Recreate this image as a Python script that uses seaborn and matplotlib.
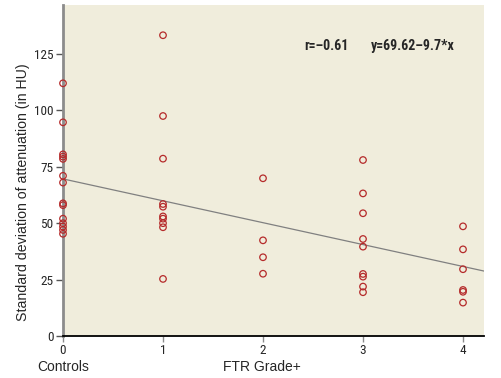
import numpy as np
import pandas as pd
import matplotlib
matplotlib.use("Agg")
import matplotlib.pyplot as plt
import seaborn as sns

# ---- data ----
grade0 = [112.0, 94.7, 80.5, 79.5, 78.5, 71.0, 68.0, 58.8, 58.0, 52.0, 50.0, 48.5, 47.0, 45.3]
grade1 = [133.3, 97.5, 78.6, 58.5, 57.3, 53.0, 52.0, 50.0, 48.2, 25.3]
grade2 = [69.9, 42.4, 34.9, 27.6]
grade3 = [78.0, 63.2, 54.4, 43.0, 39.6, 27.5, 26.3, 21.9, 19.4]
grade4 = [48.6, 38.4, 29.6, 20.4, 19.6, 14.8]
grades = [0, 1, 2, 3, 4]
y_ticks = [0, 25, 50, 75, 100, 125]
intercept = 69.62
slope = -9.7
r_value = -0.61

rows = []
for g, vals in zip(grades, [grade0, grade1, grade2, grade3, grade4]):
    for v in vals:
        rows.append({"grade": g, "sd": v})
df = pd.DataFrame(rows)

sns.set_style("white")
plt.rcParams['font.family'] = ['Liberation Sans', 'DejaVu Sans']

W, H = 502, 378
fig = plt.figure(figsize=(W / 100, H / 100), dpi=100)
ax = fig.add_axes([63 / W, (H - 336) / H, (484 - 63) / W, (336 - 5) / H])
ax.set_facecolor("#F0EDDC")

xmax = 4.21
ax.set_xlim(0, xmax)
ax.set_ylim(0, 146.7)

fit = pd.DataFrame({"x": [0, xmax]})
fit["y"] = intercept + slope * fit["x"]
sns.lineplot(data=fit, x="x", y="y", ax=ax, color="#808080", linewidth=0.9, zorder=2)

sns.scatterplot(data=df, x="grade", y="sd", ax=ax, marker="o", s=22,
                facecolors="none", edgecolor="#B52A2A", linewidth=0.9,
                zorder=3, clip_on=False)

for side in ["top", "right"]:
    ax.spines[side].set_visible(False)
ax.spines["left"].set_color("#8C8C8C")
ax.spines["left"].set_linewidth(2.0)
ax.spines["bottom"].set_color("black")
ax.spines["bottom"].set_linewidth(1.3)

narrow = ['Roboto Condensed', 'DejaVu Sans']
ax.set_xticks(grades)
ax.set_xticklabels([str(g) for g in grades], family=narrow, fontsize=9.5)
ax.set_yticks(y_ticks)
ax.set_yticklabels([str(t) for t in y_ticks], family=narrow, fontsize=9.5)
ax.tick_params(axis="y", length=5, width=1, color="#555555", pad=2, left=True)
ax.tick_params(axis="x", length=4, width=1, color="#8C8C8C", pad=1.5, bottom=True)

ax.set_xlabel("")
ax.set_ylabel("Standard deviation of attenuation (in HU)", fontsize=10.2, va="center")
ax.yaxis.set_label_coords(-0.095, 0.435)
ax.text(0, -0.093, "Controls", transform=ax.get_xaxis_transform(),
        ha="center", va="center", fontsize=10)
ax.text(2 - 0.01, -0.093, "FTR Grade+", transform=ax.get_xaxis_transform(),
        ha="center", va="center", fontsize=10)

ax.text(0.572, 0.876, "r=\u2013%.2f" % abs(r_value), transform=ax.transAxes,
        family=narrow, fontweight="bold", fontsize=10, ha="left", va="center")
ax.text(0.732, 0.876, "y=%.2f\u2013%.1f*x" % (intercept, abs(slope)), transform=ax.transAxes,
        family=narrow, fontweight="bold", fontsize=10, ha="left", va="center")

fig.savefig("out.png", dpi=100)
